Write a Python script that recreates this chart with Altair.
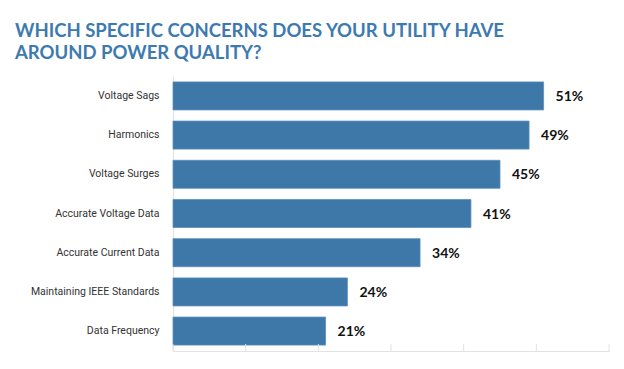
import altair as alt
import pandas as pd

categories = ["Voltage Sags", "Harmonics", "Voltage Surges", "Accurate Voltage Data",
              "Accurate Current Data", "Maintaining IEEE Standards", "Data Frequency"]
values = [51, 49, 45, 41, 34, 24, 21]
tick_values = [0, 10, 20, 30, 40, 50, 60]

df = pd.DataFrame({"cat": categories, "val": values,
                   "label": [f"{v}%" for v in values]})
ticks = pd.DataFrame({"t": tick_values})

x_scale = alt.Scale(domain=[0, 60], nice=False)
y_enc = alt.Y("cat:N", sort=categories,
              scale=alt.Scale(paddingInner=0.285, paddingOuter=0.15),
              axis=alt.Axis(title=None, labelFont="Roboto", labelFontSize=10.5,
                            labelColor="#333333", labelPadding=14, ticks=False,
                            domainColor="#e2e2e2", domainWidth=1))

bars = alt.Chart(df).mark_bar(color="#3d78a9", stroke="#5b8fbc", strokeWidth=0.8).encode(
    x=alt.X("val:Q", scale=x_scale,
            axis=alt.Axis(title=None, labels=False, ticks=False, grid=False,
                          domainColor="#e2e2e2", domainWidth=1)),
    y=y_enc,
)

texts = alt.Chart(df).mark_text(align="left", baseline="middle", dx=12, dy=1,
                                font="Lato", fontWeight="bold", fontSize=14,
                                color="#111111").encode(
    x=alt.X("val:Q", scale=x_scale),
    y=alt.Y("cat:N", sort=categories),
    text="label:N",
)

tick_marks = alt.Chart(ticks).mark_rule(color="#e2e2e2", strokeWidth=1).encode(
    x=alt.X("t:Q", scale=x_scale),
    y=alt.value(268),
    y2=alt.value(275),
)

chart = alt.layer(bars, texts, tick_marks).properties(
    width=436, height=275,
    autosize=alt.AutoSizeParams(type="none"),
    padding={"left": 165, "top": 68, "right": 7, "bottom": 10},
    title=alt.TitleParams(
        text=["WHICH SPECIFIC CONCERNS DOES YOUR UTILITY HAVE", "AROUND POWER QUALITY?"],
        anchor="start", frame="group", dx=-158, offset=14,
        font="Lato", fontWeight="bold", fontSize=18.5, color="#3d7ab0",
        lineHeight=22,
    ),
).configure_view(stroke=None)

chart.save("out.html", embed_options={"renderer": "svg", "actions": False})
